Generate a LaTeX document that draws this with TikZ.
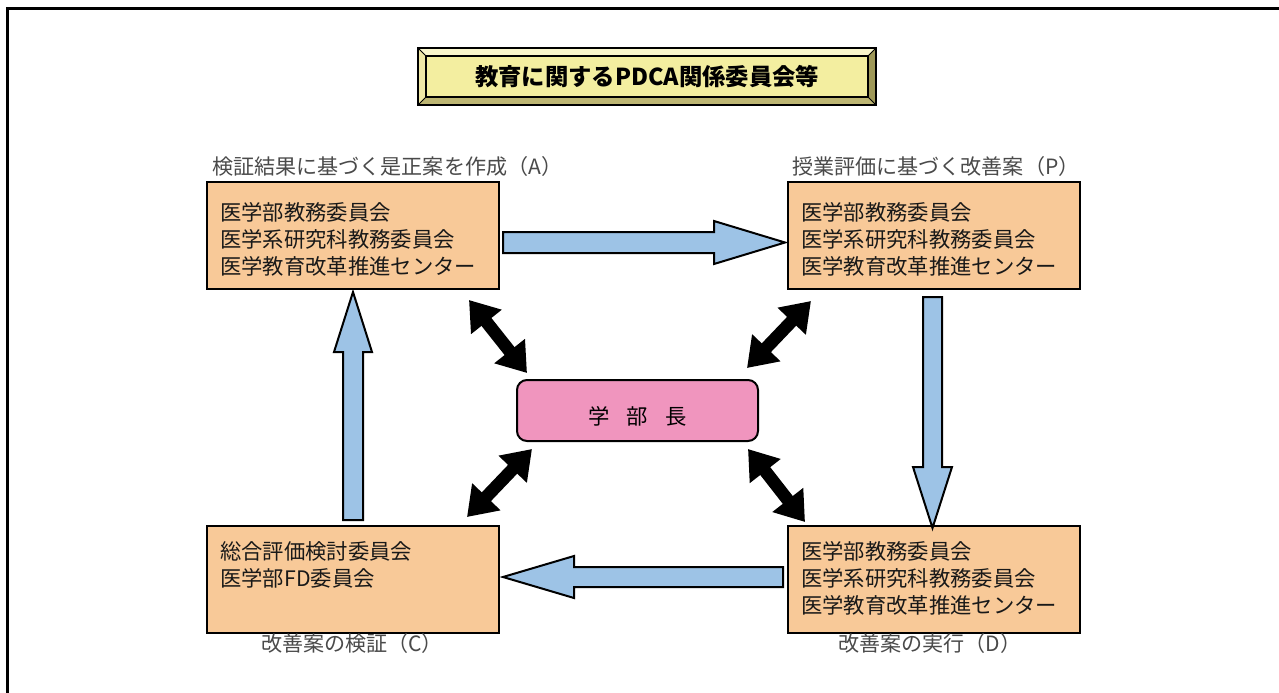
\documentclass[tikz,border=0pt]{standalone}
\usepackage{fontspec}
\setmainfont{Noto Sans CJK JP}
\usetikzlibrary{arrows.meta}
\definecolor{peach}{HTML}{F8C998}
\definecolor{pinkbox}{HTML}{F095BE}
\definecolor{bluearr}{HTML}{9DC3E6}
\definecolor{titleface}{HTML}{F3EEA0}
\definecolor{bevellight}{HTML}{F9F6CC}
\definecolor{bevelleft}{HTML}{EFE8A6}
\definecolor{beveldark}{HTML}{9E9858}
\definecolor{bevelmid}{HTML}{BDB673}
\definecolor{labelgray}{HTML}{4A4A4A}
\begin{document}
\begin{tikzpicture}[x=0.75pt,y=-0.75pt,
  pbox/.style={draw=black, line width=1.5pt, fill=peach, minimum width=219pt, minimum height=80.25pt, inner sep=0pt},
  boxtxt/.style={anchor=base west, inner sep=0pt, font=\fontsize{16pt}{18pt}\selectfont, text=black!90},
  lbl/.style={inner sep=0pt, font=\fontsize{15.8pt}{18pt}\selectfont, text=labelgray},
  blockarr/.style={draw=black, line width=1.5pt, fill=bluearr, line join=miter},
  dbl/.style={line width=9.5pt, {Triangle[length=21pt,width=28pt]}-{Triangle[length=21pt,width=28pt]}}
]
\useasboundingbox (0,0) rectangle (1279,693);
\fill[white] (0,0) rectangle (1279,693);
% frame
\draw[line width=2.25pt] (7,693) -- (7,8.5) -- (1279,8.5);

% title bevel box
\fill[bevellight] (418,48) -- (876,48) -- (868,56) -- (426,56) -- cycle;
\fill[bevelleft] (418,48) -- (426,56) -- (426,97) -- (418,105) -- cycle;
\fill[beveldark] (876,48) -- (876,105) -- (868,97) -- (868,56) -- cycle;
\fill[bevelmid] (418,105) -- (876,105) -- (868,97) -- (426,97) -- cycle;
\filldraw[fill=titleface, draw=black, line width=0.9pt] (426,56) rectangle (868,97);
\draw[line width=0.6pt] (418,48) -- (426,56) (876,48) -- (868,56) (418,105) -- (426,97) (876,105) -- (868,97);
\draw[line width=1.5pt] (418,48) rectangle (876,105);
\node[inner sep=0pt, font=\fontsize{17.5pt}{20pt}\selectfont\bfseries] (title) at (647,77) {教育に関するPDCA関係委員会等};

% boxes
\node[pbox] (A) at (353,235.5) {};
\node[pbox] (P) at (934,235.5) {};
\node[pbox] (C) at (353,579.5) {};
\node[pbox] (D) at (934,579.5) {};
\node[draw=black, line width=1.5pt, fill=pinkbox, rounded corners=7.5pt, minimum width=180.75pt, minimum height=45.75pt, inner sep=0pt] (dean) at (637.5,410.5) {};
\node[inner sep=0pt, font=\fontsize{16pt}{18pt}\selectfont] (deantxt) at (637.5,416) {学\hspace{0.8em}部\hspace{0.8em}長};

% box texts
\node[boxtxt] (a1) at (220,220) {医学部教務委員会};
\node[boxtxt] (a2) at (220,247) {医学系研究科教務委員会};
\node[boxtxt] (a3) at (220,274) {医学教育改革推進センター};
\node[boxtxt] (p1) at (801,220) {医学部教務委員会};
\node[boxtxt] (p2) at (801,247) {医学系研究科教務委員会};
\node[boxtxt] (p3) at (801,274) {医学教育改革推進センター};
\node[boxtxt] (c1) at (220,559) {総合評価検討委員会};
\node[boxtxt] (c2) at (220,586) {医学部FD委員会};
\node[boxtxt] (d1) at (801,559) {医学部教務委員会};
\node[boxtxt] (d2) at (801,586) {医学系研究科教務委員会};
\node[boxtxt] (d3) at (801,613) {医学教育改革推進センター};

% labels
\node[lbl, anchor=base west] (la) at (212,174) {検証結果に基づく是正案を作成（A）};
\node[lbl, anchor=base west] (lp) at (792,174) {授業評価に基づく改善案（P）};
\node[lbl, anchor=base] (lc) at (352,651) {改善案の検証（C）};
\node[lbl, anchor=base] (ld) at (930,651) {改善案の実行（D）};

% blue block arrows
\draw[blockarr] (503,232) -- (714,232) -- (714,221) -- (785,242.5) -- (714,264) -- (714,253) -- (503,253) -- cycle;
\draw[blockarr] (783,567) -- (574,567) -- (574,556) -- (503,577) -- (574,598) -- (574,587) -- (783,587) -- cycle;
\draw[blockarr] (923,297) -- (923,467) -- (913,467) -- (932.5,528) -- (952,467) -- (942,467) -- (942,297) -- cycle;
\draw[blockarr] (343,520) -- (343,352) -- (334,352) -- (353,292) -- (372,352) -- (363,352) -- (363,520) -- cycle;

% black double arrows
\coordinate (k1a) at (469,300); \coordinate (k1b) at (527,373);
\coordinate (k2a) at (811,301); \coordinate (k2b) at (747,368);
\coordinate (k3a) at (532,449); \coordinate (k3b) at (467,517);
\coordinate (k4a) at (748,449); \coordinate (k4b) at (805,522);
\draw[dbl] (k1a) -- (k1b);
\draw[dbl] (k2a) -- (k2b);
\draw[dbl] (k3a) -- (k3b);
\draw[dbl] (k4a) -- (k4b);
\end{tikzpicture}
\end{document}
